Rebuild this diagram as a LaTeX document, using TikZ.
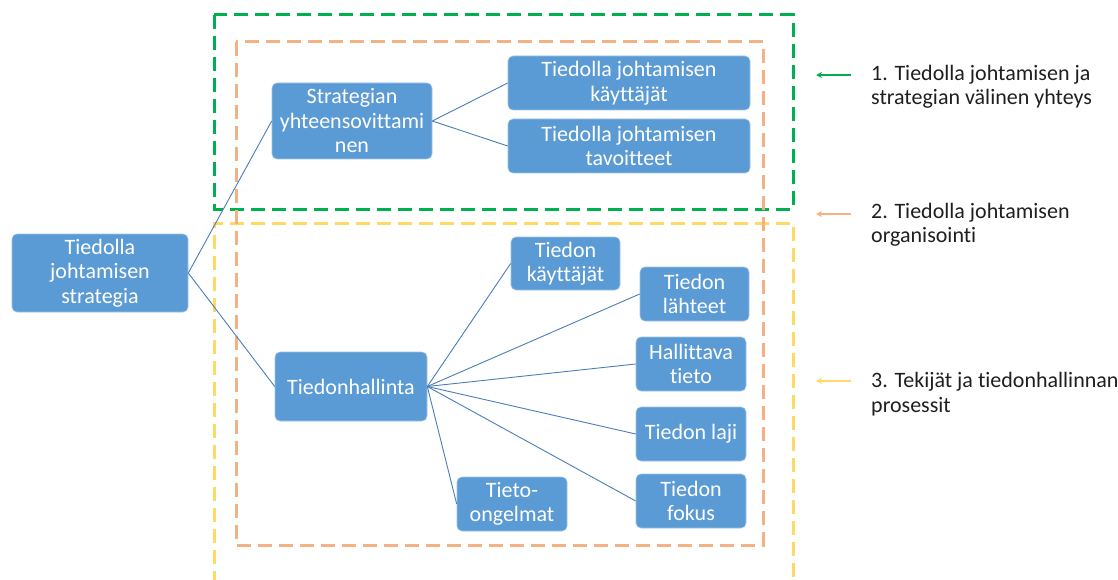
\documentclass[tikz,border=0pt]{standalone}
\usepackage{fontspec}
\setmainfont{Carlito}[Ligatures=NoCommon]
\usetikzlibrary{arrows.meta}
\definecolor{boxblue}{HTML}{5B9BD5}
\definecolor{linkblue}{HTML}{4A7EBB}
\definecolor{grp1}{HTML}{00B050}
\definecolor{grp2}{HTML}{F4B183}
\definecolor{grp3}{HTML}{FFD966}
\tikzset{
  blk/.style={rectangle, rounded corners=5pt, fill=boxblue, draw=boxblue!60!white,
    line width=0.6pt, text=white, align=center, inner sep=0pt,
    font=\fontsize{22}{24.5}\selectfont},
  link/.style={draw=linkblue, line width=0.9pt},
  grpline/.style={line width=3pt, dash pattern=on 14pt off 7pt},
  legtext/.style={anchor=west, align=left, inner sep=0pt, text=black!88,
    font=\fontsize{22}{24.5}\selectfont},
  legarrow/.style={line width=2pt, -{Stealth[length=6pt,width=6pt]}}
}
\begin{document}
\begin{tikzpicture}[x=1pt,y=-1pt]
\useasboundingbox (0,0) rectangle (1118,580);

% group frames
\draw[grpline, grp3] (214,585) -- (214,223) -- (793,223) -- (793,585);
\draw[grpline, grp1] (214,15) rectangle (793,209);
\draw[grpline, grp2] (236,42) rectangle (763,545);

% boxes
\node[blk, minimum width=176pt, minimum height=78pt] (root) at (100,273) {Tiedolla\\johtamisen\\strategia};
\node[blk, minimum width=160pt, minimum height=76pt] (strat) at (352,121) {Strategian\\yhteensovittami\\nen};
\node[blk, minimum width=242pt, minimum height=54pt] (tjk) at (629,83) {Tiedolla johtamisen\\käyttäjät};
\node[blk, minimum width=242pt, minimum height=54pt] (tjt) at (629,146) {Tiedolla johtamisen\\tavoitteet};
\node[blk, minimum width=152pt, minimum height=69pt] (thl) at (351,386.5) {Tiedonhallinta};
\node[blk, minimum width=109pt, minimum height=53pt] (tk) at (565.5,263.5) {Tiedon\\käyttäjät};
\node[blk, minimum width=109pt, minimum height=54pt] (tl) at (694.5,294) {Tiedon\\lähteet};
\node[blk, minimum width=110pt, minimum height=54pt] (ht) at (691,364) {Hallittava\\tieto};
\node[blk, minimum width=110pt, minimum height=54pt] (laji) at (691,434) {Tiedon laji};
\node[blk, minimum width=110pt, minimum height=54pt] (fokus) at (691,501) {Tiedon\\fokus};
\node[blk, minimum width=110pt, minimum height=54pt] (ongel) at (512,504) {Tieto-\\ongelmat};

% connectors
\draw[link] (root.east) -- (strat.west);
\draw[link] (root.east) -- (thl.west);
\draw[link] (strat.east) -- (tjk.west);
\draw[link] (strat.east) -- (tjt.west);
\foreach \t in {tk,tl,ht,laji,fokus,ongel}
  \draw[link] (thl.east) -- (\t.west);

% legend
\coordinate (a1s) at (851,75);  \coordinate (a1e) at (816,75);
\coordinate (a2s) at (851,214); \coordinate (a2e) at (816,214);
\coordinate (a3s) at (851,381); \coordinate (a3e) at (816,381);
\draw[legarrow, grp1] (a1s) -- (a1e);
\draw[legarrow, grp2] (a2s) -- (a2e);
\draw[legarrow, grp3] (a3s) -- (a3e);
\node[legtext] (l1) at (871,87) {1. Tiedolla johtamisen ja\\strategian välinen yhteys};
\node[legtext] (l2) at (871,225) {2. Tiedolla johtamisen\\organisointi};
\node[legtext] (l3) at (871,394) {3. Tekijät ja tiedonhallinnan\\prosessit};
\end{tikzpicture}
\end{document}
